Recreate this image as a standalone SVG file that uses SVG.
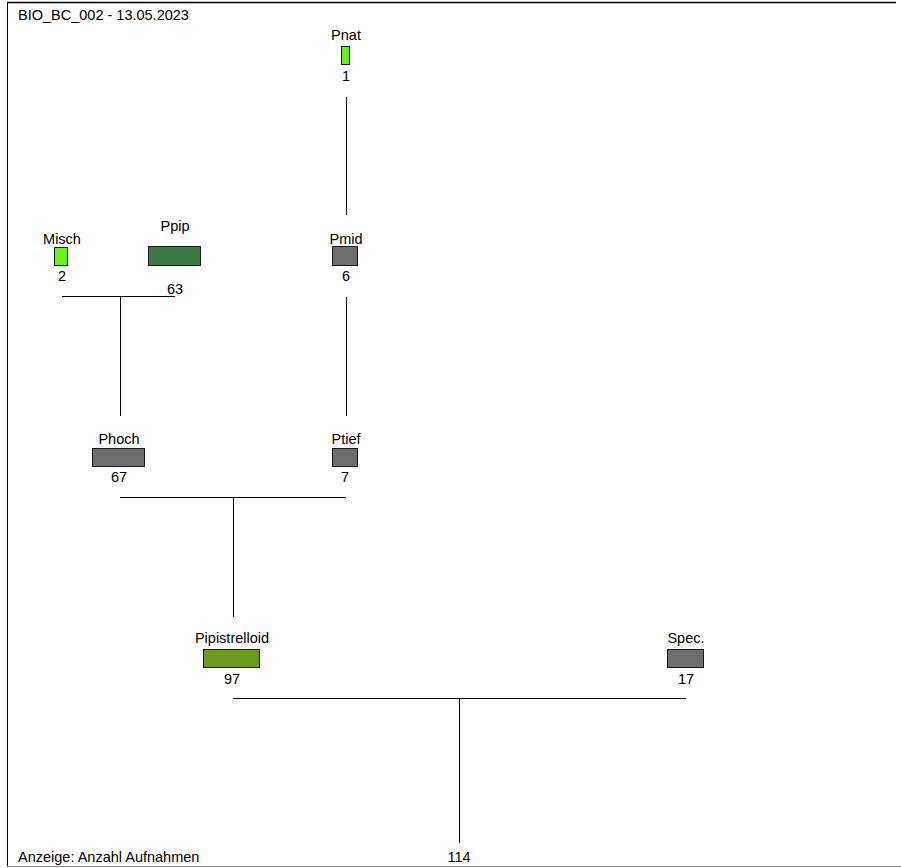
<svg xmlns="http://www.w3.org/2000/svg" width="901" height="868" viewBox="0 0 901 868">
<style>
text{font-family:"Liberation Sans",Arial,Helvetica,sans-serif;font-size:14.5px;fill:#000}
.c{text-anchor:middle}
.box{stroke:#1a1a1a;stroke-width:1}
.gray{fill:#6e6e6e}
.lime{fill:#66f216}
.dk{fill:#3a7a40}
.ol{fill:#6c9a1e}
.ln{stroke:#000;stroke-width:1;fill:none}
</style>
<rect width="901" height="868" fill="#fff"/>
<g id="frame">
<line x1="7.5" y1="2.5" x2="7.5" y2="866" stroke="#000"/>
<line x1="7" y1="2.5" x2="896" y2="2.5" stroke="#000" stroke-width="1.5"/>
<line x1="7" y1="866.5" x2="901" y2="866.5" stroke="#888"/>
</g>
<text x="18" y="20">BIO_BC_002 - 13.05.2023</text>
<text x="18" y="862">Anzeige: Anzahl Aufnahmen</text>
<g id="connectors" class="ln">
<path class="ln" d="M346.5 97V215"/>
<path class="ln" d="M62 296.5H175M120.5 296.5V416"/>
<path class="ln" d="M346.5 297V416"/>
<path class="ln" d="M120 497.5H346M233.5 497.5V617"/>
<path class="ln" d="M233 698.5H686M459.5 698.5V843"/>
</g>
<g id="Pnat"><text class="c" x="346" y="40">Pnat</text><rect class="box lime" x="341.5" y="46.5" width="8" height="18"/><text class="c" x="346" y="81">1</text></g>
<g id="Misch"><text class="c" x="62" y="244">Misch</text><rect class="box lime" x="54.5" y="247.5" width="13" height="18"/><text class="c" x="62" y="281">2</text></g>
<g id="Ppip"><text class="c" x="175" y="231">Ppip</text><rect class="box dk" x="148.5" y="246.5" width="52" height="19"/><text class="c" x="175" y="294">63</text></g>
<g id="Pmid"><text class="c" x="346" y="244">Pmid</text><rect class="box gray" x="332.5" y="246.5" width="25" height="19"/><text class="c" x="346" y="281">6</text></g>
<g id="Phoch"><text class="c" x="119" y="444">Phoch</text><rect class="box gray" x="92.5" y="448.5" width="52" height="18"/><text class="c" x="119" y="482">67</text></g>
<g id="Ptief"><text class="c" x="346" y="444">Ptief</text><rect class="box gray" x="332.5" y="448.5" width="25" height="18"/><text class="c" x="345" y="482">7</text></g>
<g id="Pipistrelloid"><text class="c" x="232" y="643">Pipistrelloid</text><rect class="box ol" x="203.5" y="649.5" width="56" height="18"/><text class="c" x="232" y="684">97</text></g>
<g id="Spec"><text class="c" x="686" y="643">Spec.</text><rect class="box gray" x="667.5" y="649.5" width="36" height="18"/><text class="c" x="686" y="684">17</text></g>
<g id="root"><text class="c" x="459" y="862">114</text></g>
</svg>
